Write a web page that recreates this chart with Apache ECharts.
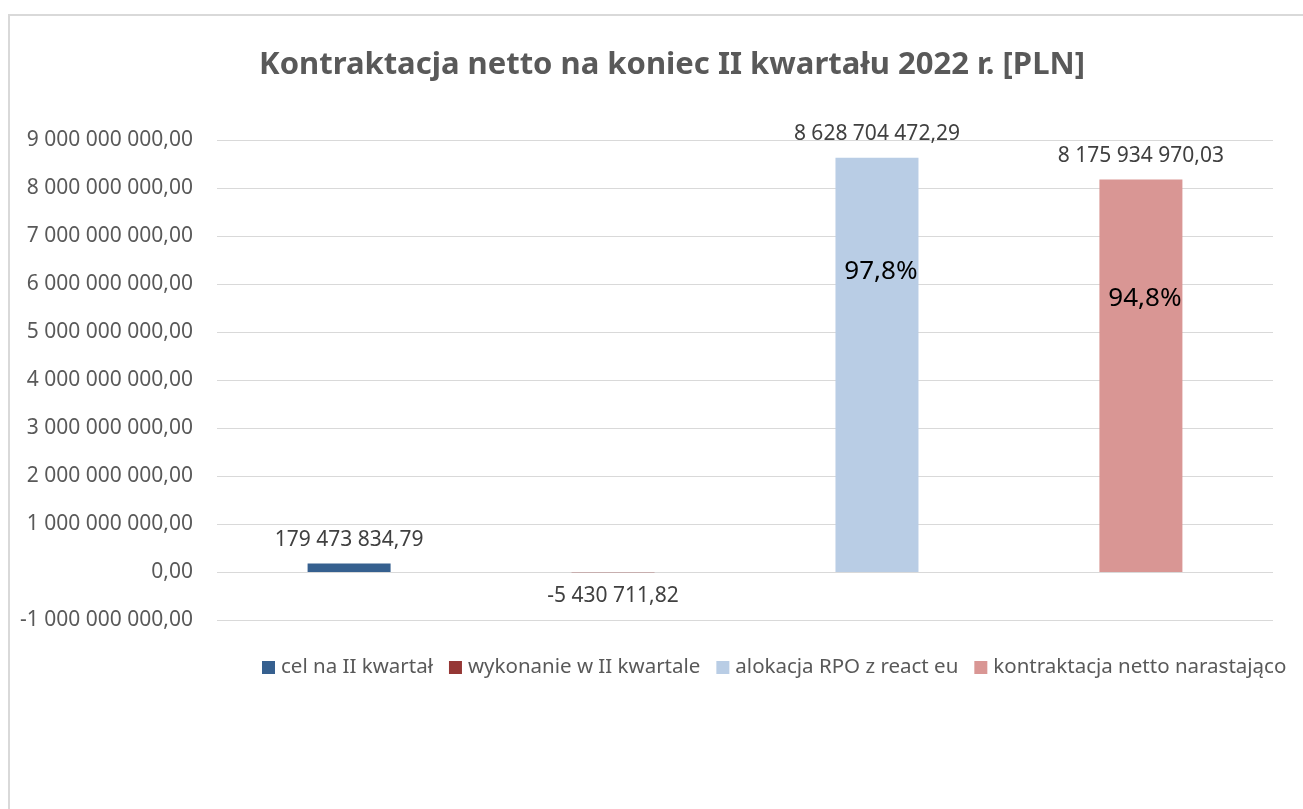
<!DOCTYPE html>
<html>
<head>
<meta charset="utf-8">
<script src="https://cdn.jsdelivr.net/npm/echarts@6/dist/echarts.min.js"></script>
<style>
  html, body { margin: 0; padding: 0; background: #fff; overflow: hidden; }
  #frame {
    position: absolute; left: 8px; top: 14px; width: 1400px; height: 900px;
    border-top: 2px solid #d9d9d9; border-left: 2px solid #d9d9d9;
  }
  #chart { position: absolute; left: 0; top: 0; width: 1303px; height: 809px; }
</style>
</head>
<body>
<div id="frame"></div>
<div id="chart"></div>
<script>
// serie danych
const seriesNames = [
  "cel na II kwartał",
  "wykonanie w II kwartale",
  "alokacja RPO z react eu",
  "kontraktacja netto narastająco",
];
const seriesValues = [179473834.79, -5430711.82, 8628704472.29, 8175934970.03];
const seriesColors = ["#36608f", "#953735", "#b9cde5", "#d99694"];
// etykiety procentowe wewnątrz słupków
const percentLabels = [null, null, "97,8%", "94,8%"];
const percentLabelY = [null, null, 6.25e9, 5.69e9];

const FONT = "Noto Sans";

// 1234567,5 -> "1 234 567,50"
const fmt = (v) => {
  const neg = v < 0;
  const [i, d] = Math.abs(v).toFixed(2).split(".");
  return (neg ? "-" : "") + i.replace(/\B(?=(\d{3})+(?!\d))/g, " ") + "," + d;
};

const chart = echarts.init(document.getElementById("chart"));

const series = seriesNames.map((name, idx) => {
  const s = {
    name,
    type: "bar",
    barWidth: 83,
    barGap: "218%",
    data: [seriesValues[idx]],
    itemStyle: { color: seriesColors[idx] },
    label: {
      show: true,
      position: seriesValues[idx] < 0 ? "bottom" : "top",
      distance: 13,
      color: "#404040",
      fontFamily: FONT,
      fontSize: 21,
      formatter: (p) => fmt(p.value),
    },
  };
  if (percentLabels[idx]) {
    s.markPoint = {
      symbol: "rect",
      symbolSize: 1,
      itemStyle: { color: "transparent" },
      data: [{ name: percentLabels[idx], coord: [0, percentLabelY[idx]] }],
      label: {
        show: true,
        position: "inside",
        offset: [4, 0],
        color: "#000",
        fontFamily: FONT,
        fontSize: 26,
        formatter: (p) => p.name,
      },
    };
  }
  return s;
});

chart.setOption({
  animation: false,
  title: {
    text: "Kontraktacja netto na koniec II kwartału 2022 r. [PLN]",
    left: 672,
    top: 50,
    padding: 0,
    textAlign: "center",
    textStyle: {
      color: "#595959",
      fontFamily: FONT,
      fontWeight: "bold",
      fontSize: 31,
    },
  },
  legend: {
    left: 262,
    top: 657,
    width: 1200,
    itemWidth: 13,
    itemHeight: 13,
    itemGap: 16,
    icon: "rect",
    padding: 0,
    textStyle: { color: "#595959", fontFamily: FONT, fontSize: 20.5, padding: [0, 0, 0, 1] },
    data: seriesNames,
  },
  grid: { left: 217, right: 30, top: 140, bottom: 189 },
  xAxis: {
    type: "category",
    data: [""],
    axisLine: { show: false },
    axisTick: { show: false },
    axisLabel: { show: false },
  },
  yAxis: {
    type: "value",
    min: -1e9,
    max: 9e9,
    interval: 1e9,
    axisLine: { show: false },
    axisTick: { show: false },
    splitLine: { lineStyle: { color: "#d9d9d9", width: 1 } },
    axisLabel: {
      margin: 24,
      color: "#595959",
      fontFamily: FONT,
      fontSize: 21,
      formatter: (v) => fmt(v),
    },
  },
  series,
});
</script>
</body>
</html>
